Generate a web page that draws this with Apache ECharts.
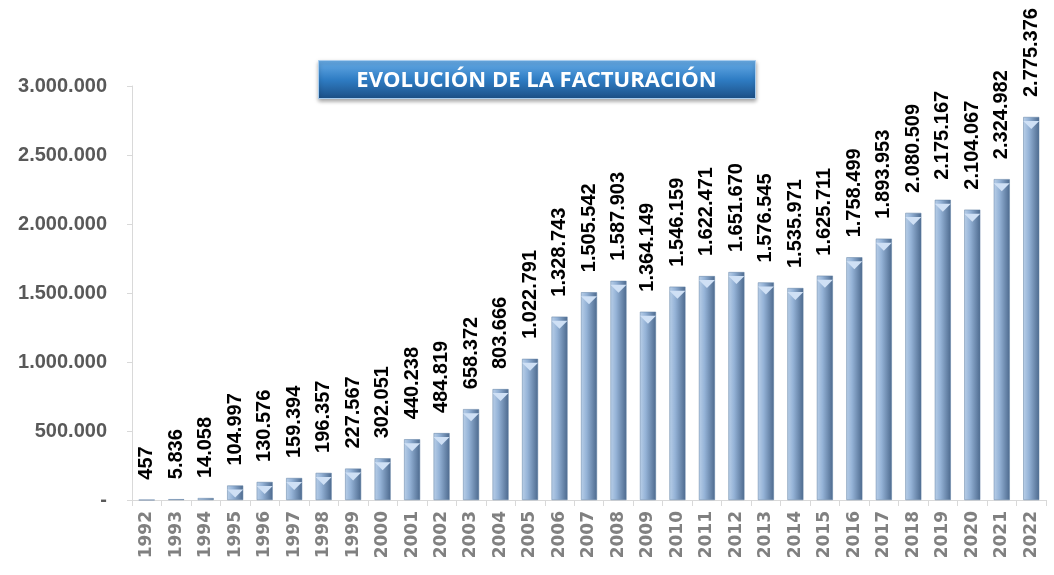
<!DOCTYPE html>
<html>
<head>
<meta charset="utf-8">
<script src="https://cdn.jsdelivr.net/npm/echarts@6/dist/echarts.min.js"></script>
<style>
  html, body { margin: 0; padding: 0; background: #fff; }
  #chart { width: 1054px; height: 575px; }
</style>
</head>
<body>
<div id="chart"></div>
<script>
var years = ['1992', '1993', '1994', '1995', '1996', '1997', '1998', '1999', '2000', '2001',
    '2002', '2003', '2004', '2005', '2006', '2007', '2008', '2009', '2010', '2011',
    '2012', '2013', '2014', '2015', '2016', '2017', '2018', '2019', '2020', '2021', '2022'];
var facturacion = [457, 5836, 14058, 104997, 130576, 159394, 196357, 227567, 302051, 440238,
    484819, 658372, 803666, 1022791, 1328743, 1505542, 1587903, 1364149, 1546159, 1622471,
    1651670, 1576545, 1535971, 1625711, 1758499, 1893953, 2080509, 2175167, 2104067, 2324982, 2775376];
var titleText = 'EVOLUCIÓN DE LA FACTURACIÓN';

// miles con punto
function fmt(n) {
    return String(n).replace(/\B(?=(\d{3})+(?!\d))/g, '.');
}

var chart = echarts.init(document.getElementById('chart'));

chart.setOption({
    animation: false,
    textStyle: { fontFamily: 'Liberation Sans' },
    grid: { left: 132, right: 8, top: 86, bottom: 75 },
    graphic: [{
        type: 'group',
        left: 318,
        top: 60,
        children: [{
            type: 'rect',
            shape: { x: 0, y: 0, width: 437, height: 38 },
            style: {
                fill: new echarts.graphic.LinearGradient(0, 0, 0, 1, [
                    { offset: 0, color: '#6aaee8' },
                    { offset: 0.5, color: '#2f7dc4' },
                    { offset: 1, color: '#1c4f85' }
                ]),
                stroke: '#a9cdee',
                lineWidth: 1,
                shadowBlur: 4,
                shadowColor: 'rgba(0,0,0,0.35)',
                shadowOffsetY: 2
            }
        }, {
            type: 'text',
            x: 218,
            y: 20,
            style: {
                text: titleText,
                fill: '#ffffff',
                font: 'bold 22px "Open Sans"',
                align: 'center',
                verticalAlign: 'middle'
            }
        }]
    }],
    xAxis: {
        type: 'category',
        data: years,
        axisLine: { lineStyle: { color: '#d9d9d9' } },
        axisTick: { show: true, length: 6, lineStyle: { color: '#d9d9d9' } },
        axisLabel: {
            rotate: 90,
            interval: 0,
            margin: 11,
            color: '#808080',
            fontFamily: 'DejaVu Sans',
            fontWeight: 'bold',
            fontSize: 17
        }
    },
    yAxis: {
        type: 'value',
        min: 0,
        max: 3000000,
        interval: 500000,
        axisLine: { show: true, lineStyle: { color: '#d9d9d9' } },
        axisTick: { show: true, length: 5, lineStyle: { color: '#d9d9d9' } },
        splitLine: { show: false },
        axisLabel: {
            margin: 25,
            color: '#595959',
            fontWeight: 'bold',
            fontSize: 20,
            formatter: function (v) {
                return v === 0 ? '-' : fmt(v);
            }
        }
    },
    series: [{
        name: 'facturacion',
        type: 'bar',
        barWidth: 16,
        data: facturacion,
        itemStyle: {
            color: new echarts.graphic.LinearGradient(0, 0, 1, 0, [
                { offset: 0, color: '#b9cfe8' },
                { offset: 0.35, color: '#95b3d7' },
                { offset: 1, color: '#4d6a8e' }
            ]),
            borderColor: '#5f7ea3',
            borderWidth: 0.5
        },
        label: {
            show: true,
            position: 'top',
            rotate: 90,
            align: 'left',
            verticalAlign: 'middle',
            distance: 20,
            color: '#000',
            fontWeight: 'bold',
            fontSize: 20,
            formatter: function (p) { return fmt(p.value); }
        }
    }, {
        name: 'tapa',
        type: 'pictorialBar',
        symbol: 'path://M0,0 L10,0 L5,6 Z',
        symbolSize: [16, 8],
        symbolPosition: 'end',
        symbolOffset: [0, '50%'],
        barGap: '-100%',
        z: 3,
        itemStyle: { color: '#cfe0f5' },
        data: facturacion.map(function (v) { return v > 50000 ? v : '-'; })
    }]
});
</script>
</body>
</html>
